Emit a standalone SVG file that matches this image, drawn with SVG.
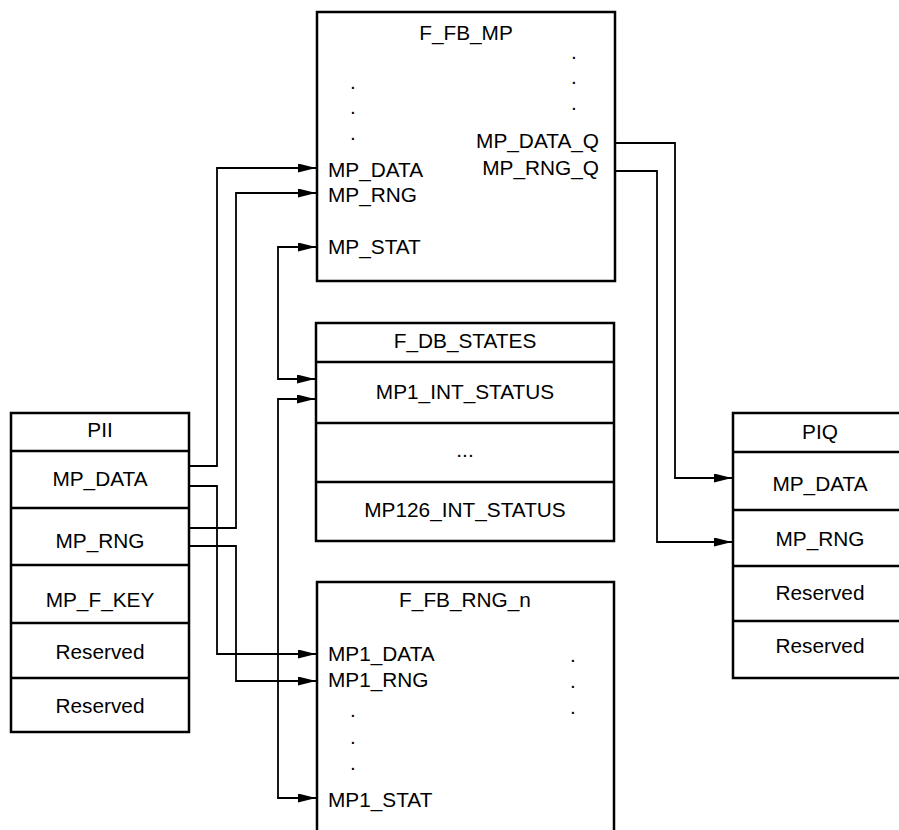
<svg xmlns="http://www.w3.org/2000/svg" width="899" height="830" viewBox="0 0 899 830">
<style>
.box{fill:#fff;stroke:#000;stroke-width:2.5}
.sep{stroke:#000;stroke-width:2.5}
.t{font-family:"Liberation Sans",Arial,sans-serif;font-size:20.8px;fill:#000}
.c{text-anchor:middle}
.e{text-anchor:end}
.w{fill:none;stroke:#000;stroke-width:1.8}
</style>
<defs>
<marker id="ah" markerUnits="userSpaceOnUse" markerWidth="18" markerHeight="10" refX="18" refY="4.5" orient="auto-start-reverse">
<path d="M0,0 L18,4.5 L0,9 z" fill="#000"/>
</marker>
</defs>
<rect width="899" height="830" fill="#fff"/>

<g id="F_FB_MP">
<rect class="box" x="317" y="12" width="298" height="269"/>
<text class="t c" x="466" y="40">F_FB_MP</text>
<text class="t c" x="353" y="89">.</text>
<text class="t c" x="353" y="114">.</text>
<text class="t c" x="353" y="140">.</text>
<text class="t c" x="574" y="59">.</text>
<text class="t c" x="574" y="84">.</text>
<text class="t c" x="574" y="110">.</text>
<text class="t" x="328" y="177">MP_DATA</text>
<text class="t" x="328" y="202">MP_RNG</text>
<text class="t" x="328" y="254">MP_STAT</text>
<text class="t e" x="599" y="148">MP_DATA_Q</text>
<text class="t e" x="599" y="175">MP_RNG_Q</text>
</g>

<g id="F_DB_STATES">
<rect class="box" x="316" y="323" width="298" height="218"/>
<line class="sep" x1="316" y1="362" x2="614" y2="362"/>
<line class="sep" x1="316" y1="423" x2="614" y2="423"/>
<line class="sep" x1="316" y1="482" x2="614" y2="482"/>
<text class="t c" x="465" y="348">F_DB_STATES</text>
<text class="t c" x="465" y="399">MP1_INT_STATUS</text>
<text class="t c" x="465" y="457">...</text>
<text class="t c" x="465" y="517">MP126_INT_STATUS</text>
</g>

<g id="F_FB_RNG_n">
<rect class="box" x="317" y="582" width="297" height="270"/>
<text class="t c" x="465" y="607">F_FB_RNG_n</text>
<text class="t" x="328" y="661">MP1_DATA</text>
<text class="t" x="328" y="687">MP1_RNG</text>
<text class="t" x="328" y="807">MP1_STAT</text>
<text class="t c" x="353" y="717">.</text>
<text class="t c" x="353" y="744">.</text>
<text class="t c" x="353" y="770">.</text>
<text class="t c" x="573" y="662">.</text>
<text class="t c" x="573" y="688">.</text>
<text class="t c" x="573" y="714">.</text>
</g>

<g id="PII">
<rect class="box" x="11" y="413" width="178" height="319"/>
<line class="sep" x1="11" y1="451" x2="189" y2="451"/>
<line class="sep" x1="11" y1="508" x2="189" y2="508"/>
<line class="sep" x1="11" y1="565" x2="189" y2="565"/>
<line class="sep" x1="11" y1="623" x2="189" y2="623"/>
<line class="sep" x1="11" y1="678" x2="189" y2="678"/>
<text class="t c" x="100" y="437">PII</text>
<text class="t c" x="100" y="486">MP_DATA</text>
<text class="t c" x="100" y="548">MP_RNG</text>
<text class="t c" x="100" y="607">MP_F_KEY</text>
<text class="t c" x="100" y="659">Reserved</text>
<text class="t c" x="100" y="713">Reserved</text>
</g>

<g id="PIQ">
<rect class="box" x="733" y="413" width="174" height="265"/>
<line class="sep" x1="733" y1="452" x2="907" y2="452"/>
<line class="sep" x1="733" y1="510" x2="907" y2="510"/>
<line class="sep" x1="733" y1="566" x2="907" y2="566"/>
<line class="sep" x1="733" y1="621" x2="907" y2="621"/>
<text class="t c" x="820" y="439">PIQ</text>
<text class="t c" x="820" y="491">MP_DATA</text>
<text class="t c" x="820" y="546">MP_RNG</text>
<text class="t c" x="820" y="600">Reserved</text>
<text class="t c" x="820" y="653">Reserved</text>
</g>

<g id="connectors">
<path class="w" d="M189,466 H217 V168 H316" marker-end="url(#ah)"/>
<path class="w" d="M189,486 H217 V654 H316" marker-end="url(#ah)"/>
<path class="w" d="M189,528 H236 V193 H316" marker-end="url(#ah)"/>
<path class="w" d="M189,546 H236 V681 H316" marker-end="url(#ah)"/>
<path class="w" d="M315,379 H278 V247 H316" marker-start="url(#ah)" marker-end="url(#ah)"/>
<path class="w" d="M315,399 H278 V798 H316" marker-start="url(#ah)" marker-end="url(#ah)"/>
<path class="w" d="M615,143 H675 V478 H732" marker-end="url(#ah)"/>
<path class="w" d="M615,171 H657 V542 H732" marker-end="url(#ah)"/>
</g>
</svg>
